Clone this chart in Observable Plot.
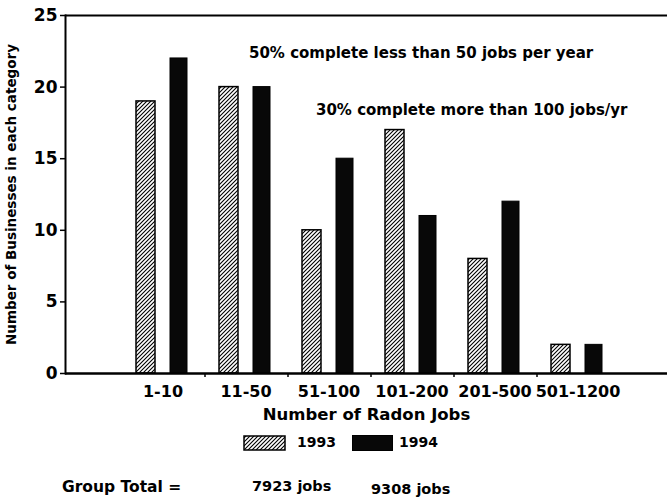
<!DOCTYPE html>
<html>
<head>
<meta charset="utf-8">
<script src="https://cdn.jsdelivr.net/npm/d3@7"></script>
<script src="https://cdn.jsdelivr.net/npm/@observablehq/plot@0.6"></script>
<style>
  body { margin: 0; background: #fff; }
  #wrap { position: relative; width: 667px; height: 502px; font-family: "DejaVu Sans", sans-serif; font-weight: bold; color: #000; }
  #chart { position: absolute; left: 0; top: 0; }
  .lbl { position: absolute; white-space: nowrap; line-height: 16px; height: 16px; }
  .sw { position: absolute; }
</style>
</head>
<body>
<div id="wrap">
  <div id="chart"></div>
  <svg class="sw" id="sw1993" style="left:243px;top:435px" width="43" height="16"></svg>
  <div class="lbl" id="lab1993" style="left:297px;top:434px;font-size:14px"></div>
  <svg class="sw" id="sw1994" style="left:352px;top:435px" width="41" height="16"></svg>
  <div class="lbl" id="lab1994" style="left:399px;top:434px;font-size:14px"></div>
  <div class="lbl" id="groupLabel" style="left:62px;top:479px;font-size:15.5px"></div>
  <div class="lbl" id="tot1993" style="left:252px;top:478px;font-size:14.5px"></div>
  <div class="lbl" id="tot1994" style="left:371px;top:481px;font-size:14.5px"></div>
</div>
<script>
// ---- data ----
const categories = ["1-10", "11-50", "51-100", "101-200", "201-500", "501-1200"];
const years = ["1993", "1994"];
const values1993 = [19, 20, 10, 17, 8, 2];
const values1994 = [22, 20, 15, 11, 12, 2];
const yTicks = [0, 5, 10, 15, 20, 25];
const groupTotalLabel = "Group Total =";
const groupTotals = ["7923 jobs", "9308 jobs"];
const note1 = [{text: "50% complete less than 50 jobs per year", category: "11-50", value: 22.4}];
const note2 = [{text: "30% complete more than 100 jobs/yr", category: "51-100", value: 18.4}];

const rows = [];
categories.forEach((c, i) => {
  rows.push({category: c, year: years[0], count: values1993[i]});
  rows.push({category: c, year: years[1], count: values1994[i]});
});

const chart = Plot.plot({
  width: 667,
  height: 425,
  marginLeft: 65,
  marginRight: 0,
  marginTop: 15,
  marginBottom: 52,
  style: {fontFamily: "DejaVu Sans, sans-serif", fontWeight: "bold", background: "#fff", color: "#000"},
  x: {type: "band", domain: categories, range: [118, 621], padding: 0},
  y: {domain: [0, 25]},
  marks: [
    Plot.barY(rows.filter(d => d.year === years[0]), {
      x: "category", y: "count", fill: "url(#hatch)", stroke: "#000", strokeWidth: 1.5,
      insetLeft: 15, insetRight: 49
    }),
    Plot.barY(rows.filter(d => d.year === years[1]), {
      x: "category", y: "count", fill: "#080808", stroke: "#000", strokeWidth: 1,
      insetLeft: 49, insetRight: 17
    }),
    Plot.ruleY([0], {stroke: "#000", strokeWidth: 2.5}),
    Plot.ruleY([25], {stroke: "#000", strokeWidth: 2}),
    Plot.frame({anchor: "left", stroke: "#000", strokeWidth: 2}),
    Plot.ruleX(categories.slice(0, -1), {x: d => d, dx: 42, y1: 0, y2: 0, insetBottom: -4, stroke: "#000", strokeWidth: 1.5}),
    Plot.axisY({ticks: yTicks, tickSize: 5, tickPadding: 3, fontSize: 17, strokeWidth: 1.5, label: null}),
    Plot.axisY({ticks: [], tickSize: 0, fontSize: 13.5,
      label: "Number of Businesses in each category", labelAnchor: "center", labelOffset: 59, labelArrow: "none"}),
    Plot.axisX({tickSize: 0, tickPadding: 12, fontSize: 16, label: null}),
    Plot.axisX({ticks: [], tickSize: 0, fontSize: 16.5,
      label: "Number of Radon Jobs", labelAnchor: "center", labelOffset: 46, labelArrow: "none"}),
    Plot.text(note1, {x: "category", y: "value", text: "text", textAnchor: "start", dx: 3, fontSize: 15}),
    Plot.text(note2, {x: "category", y: "value", text: "text", textAnchor: "start", dx: -13, fontSize: 15})
  ]
});

// hatch pattern definition
const defs = d3.select(chart).insert("defs", ":first-child");
defs.append("pattern")
  .attr("id", "hatch").attr("patternUnits", "userSpaceOnUse").attr("width", 4).attr("height", 4)
  .call(p => p.append("rect").attr("width", 4).attr("height", 4).attr("fill", "#fff"))
  .append("path").attr("d", "M-1,1 l2,-2 M0,4 l4,-4 M3,5 l2,-2")
  .attr("stroke", "#000").attr("stroke-width", 1.1);

document.getElementById("chart").appendChild(chart);

// legend
d3.select("#sw1993").append("rect").attr("x", 1).attr("y", 1).attr("width", 41).attr("height", 14)
  .attr("fill", "url(#hatch)").attr("stroke", "#000").attr("stroke-width", 1.5);
d3.select("#sw1994").append("rect").attr("x", 0.5).attr("y", 0.5).attr("width", 40).attr("height", 15)
  .attr("fill", "#080808").attr("stroke", "#000");
document.getElementById("lab1993").textContent = years[0];
document.getElementById("lab1994").textContent = years[1];
document.getElementById("groupLabel").textContent = groupTotalLabel;
document.getElementById("tot1993").textContent = groupTotals[0];
document.getElementById("tot1994").textContent = groupTotals[1];
</script>
</body>
</html>
